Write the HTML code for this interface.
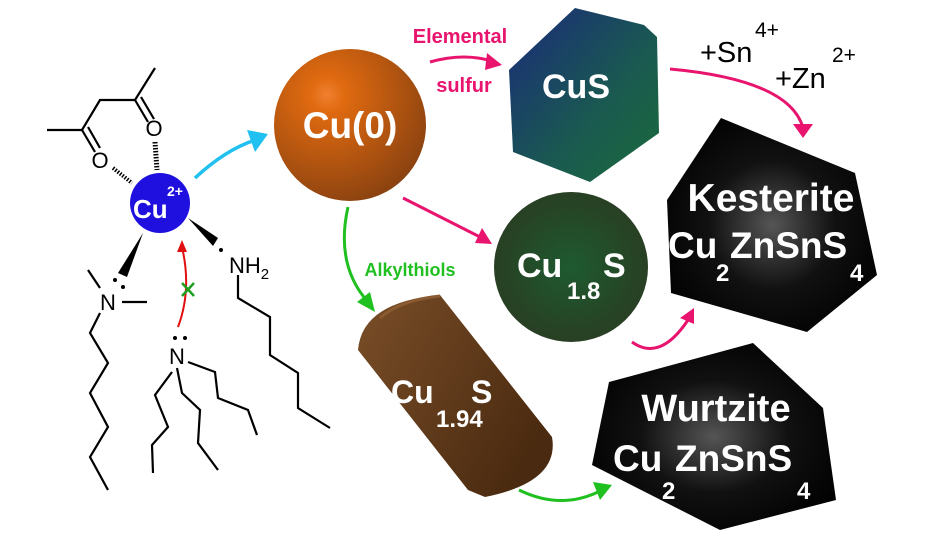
<!DOCTYPE html>
<html><head><meta charset="utf-8"><style>
html,body{margin:0;padding:0;background:#fff;}
svg{display:block;}
text{font-family:"Liberation Sans","DejaVu Sans",sans-serif;font-weight:bold;}
</style></head><body>
<svg width="952" height="535" viewBox="0 0 952 535" xmlns="http://www.w3.org/2000/svg">
<defs>
<radialGradient id="cu0" cx="0.35" cy="0.3" r="0.75"><stop offset="0" stop-color="#f08030"/><stop offset="0.15" stop-color="#e06a10"/><stop offset="1" stop-color="#8a4210"/></radialGradient>
<linearGradient id="cus" x1="0" y1="0" x2="1" y2="1"><stop offset="0" stop-color="#1a2a7a"/><stop offset="0.6" stop-color="#1a5a50"/><stop offset="1" stop-color="#1a6a3a"/></linearGradient>
<radialGradient id="cu18" cx="0.5" cy="0.5" r="0.6"><stop offset="0" stop-color="#1e5a30"/><stop offset="1" stop-color="#2a3a20"/></radialGradient>
<linearGradient id="cyl" x1="0" y1="0" x2="1" y2="0.6"><stop offset="0" stop-color="#7a4e28"/><stop offset="1" stop-color="#4a2a10"/></linearGradient>
<radialGradient id="blk" cx="0.5" cy="0.5" r="0.6"><stop offset="0" stop-color="#555"/><stop offset="0.5" stop-color="#111"/><stop offset="1" stop-color="#000"/></radialGradient>
</defs>

<!-- left molecule -->
<g stroke="#000" stroke-width="2.2" fill="none">
<polyline points="47,130 82,130 100,100 135,100 155,68"/>
<line x1="82" y1="130" x2="95" y2="152"/><line x1="88" y1="127" x2="100" y2="148"/>
<line x1="135" y1="100" x2="148" y2="122"/><line x1="141" y1="97" x2="154" y2="119"/>
<line x1="122" y1="302" x2="147" y2="302"/><line x1="88" y1="270" x2="100" y2="288"/>
<polyline points="100,313 90,333 108,363 90,393 108,427 90,457 108,490"/>
<polyline points="238,275 238,298 270,317 270,355 298,373 298,408 330,428"/>
<polyline points="188,362 215,372 218,398 248,410 257,435"/>
<polyline points="177,368 182,393 200,410 198,443 218,470"/>
<polyline points="172,372 155,395 168,427 152,445 153,473"/>
</g>
<g stroke="#000" stroke-width="1.5">
<line x1="113" y1="168" x2="132" y2="183" stroke-dasharray="1.5,1.5" stroke-width="4"/>
<line x1="155" y1="142" x2="157" y2="170" stroke-dasharray="1.5,1.5" stroke-width="5"/>
</g>
<polygon points="143,233 118,273 127,277" fill="#000"/>
<polygon points="188,218 213,246 218,238" fill="#000"/>
<text x="100" y="168" font-size="22" text-anchor="middle" style="font-weight:normal">O</text>
<text x="154" y="136" font-size="22" text-anchor="middle" style="font-weight:normal">O</text>
<text x="108" y="310" font-size="22" text-anchor="middle" style="font-weight:normal">N</text>
<text x="177" y="364" font-size="22" text-anchor="middle" style="font-weight:normal">N</text>
<text x="229" y="273" font-size="22" style="font-weight:normal">NH<tspan font-size="15" dy="6">2</tspan></text>
<g fill="#000"><circle cx="115" cy="280" r="2"/><circle cx="123" cy="287" r="2"/><circle cx="175" cy="338" r="2"/><circle cx="185" cy="338" r="2"/><circle cx="221" cy="250" r="2"/></g>
<path d="M178,327 Q192,290 182,247" stroke="#e01010" stroke-width="2" fill="none"/>
<polygon points="182,240 177,252 187,252" fill="#e01010"/>
<g stroke="#20a020" stroke-width="2.5"><line x1="182" y1="283" x2="194" y2="296"/><line x1="194" y1="283" x2="182" y2="296"/></g>
<circle cx="160" cy="203" r="30" fill="#2010e0"/>
<text x="133" y="218" font-size="26" fill="#fff">Cu</text>
<text x="167" y="196" font-size="14" fill="#fff">2+</text>

<!-- cyan arrow -->
<path d="M195,178 Q225,150 255,140" stroke="#20c0f0" stroke-width="3.5" fill="none"/>
<polygon points="268,134 247,130 255,152" fill="#20c0f0"/>

<!-- Cu(0) -->
<circle cx="350" cy="125" r="76" fill="url(#cu0)"/>
<text x="350" y="138" font-size="37" fill="#fff" text-anchor="middle">Cu(0)</text>

<!-- CuS -->
<polygon points="509,70 575,8 644,25 657,37 659,133 590,182 513,152" fill="url(#cus)"/>
<text x="576" y="98" font-size="34" fill="#fff" text-anchor="middle">CuS</text>

<!-- Elemental sulfur -->
<text x="460" y="43" font-size="20" fill="#e8146e" text-anchor="middle">Elemental</text>
<text x="464" y="92" font-size="20" fill="#e8146e" text-anchor="middle">sulfur</text>
<path d="M430,62 Q465,52 495,62" stroke="#e8146e" stroke-width="3" fill="none"/>
<polygon points="502,65 487,53 485,70" fill="#e8146e"/>

<!-- Sn Zn -->
<text x="700" y="62" font-size="29" fill="#000" style="font-weight:normal">+Sn</text>
<text x="755" y="37" font-size="21" fill="#000" style="font-weight:normal">4+</text>
<text x="775" y="88" font-size="29" fill="#000" style="font-weight:normal">+Zn</text>
<text x="832" y="62" font-size="21" fill="#000" style="font-weight:normal">2+</text>
<path d="M670,69 Q790,80 803,128" stroke="#e8146e" stroke-width="3" fill="none"/>
<polygon points="803,138 793,124 813,124" fill="#e8146e"/>

<!-- pink Cu0->Cu1.8 -->
<path d="M403,198 L482,238" stroke="#e8146e" stroke-width="3" fill="none"/>
<polygon points="492,244 475,243 482,228" fill="#e8146e"/>

<!-- green Cu0 -> cylinder -->
<path d="M348,207 Q335,265 368,302" stroke="#20c020" stroke-width="3" fill="none"/>
<polygon points="375,312 357,302 370,292" fill="#20c020"/>
<text x="410" y="276" font-size="18" fill="#20c020" text-anchor="middle">Alkylthiols</text>

<!-- Cu1.8S -->
<ellipse cx="571" cy="267" rx="77" ry="75" fill="url(#cu18)"/>
<text x="517" y="277" font-size="34" fill="#fff">Cu</text>
<text x="567" y="299" font-size="24" fill="#fff">1.8</text>
<text x="603" y="277" font-size="34" fill="#fff">S</text>

<!-- pink Cu1.8 -> kesterite -->
<path d="M632,342 Q660,362 688,320" stroke="#e8146e" stroke-width="3" fill="none"/>
<polygon points="694,308 680,318 694,324" fill="#e8146e"/>

<!-- Kesterite -->
<polygon points="721,118 855,173 877,275 807,332 671,293 667,200" fill="url(#blk)"/>
<text x="771" y="211" font-size="39" fill="#fff" text-anchor="middle">Kesterite</text>
<text x="668" y="258" font-size="37" fill="#fff">Cu</text>
<text x="716" y="281" font-size="24" fill="#fff">2</text>
<text x="730" y="258" font-size="37" fill="#fff">ZnSnS</text>
<text x="850" y="281" font-size="24" fill="#fff">4</text>

<!-- cylinder -->
<path d="M358,350 Q362,302 440,295 L552,437 Q560,482 485,497 L468,490 Z" fill="url(#cyl)"/>
<path d="M380,318 Q400,300 440,296" stroke="#8a5a30" stroke-width="3" fill="none"/>
<text x="391" y="403" font-size="32" fill="#fff">Cu</text>
<text x="436" y="427" font-size="24" fill="#fff">1.94</text>
<text x="471" y="403" font-size="32" fill="#fff">S</text>

<!-- green cylinder -> wurtzite -->
<path d="M519,490 Q560,510 598,492" stroke="#20c020" stroke-width="3" fill="none"/>
<polygon points="612,485 593,482 600,500" fill="#20c020"/>

<!-- Wurtzite -->
<polygon points="609,382 753,343 823,408 836,500 720,530 592,465" fill="url(#blk)"/>
<text x="716" y="421" font-size="38" fill="#fff" text-anchor="middle">Wurtzite</text>
<text x="613" y="471" font-size="37" fill="#fff">Cu</text>
<text x="662" y="499" font-size="24" fill="#fff">2</text>
<text x="675" y="471" font-size="37" fill="#fff">ZnSnS</text>
<text x="797" y="499" font-size="24" fill="#fff">4</text>
</svg>
</body></html>
